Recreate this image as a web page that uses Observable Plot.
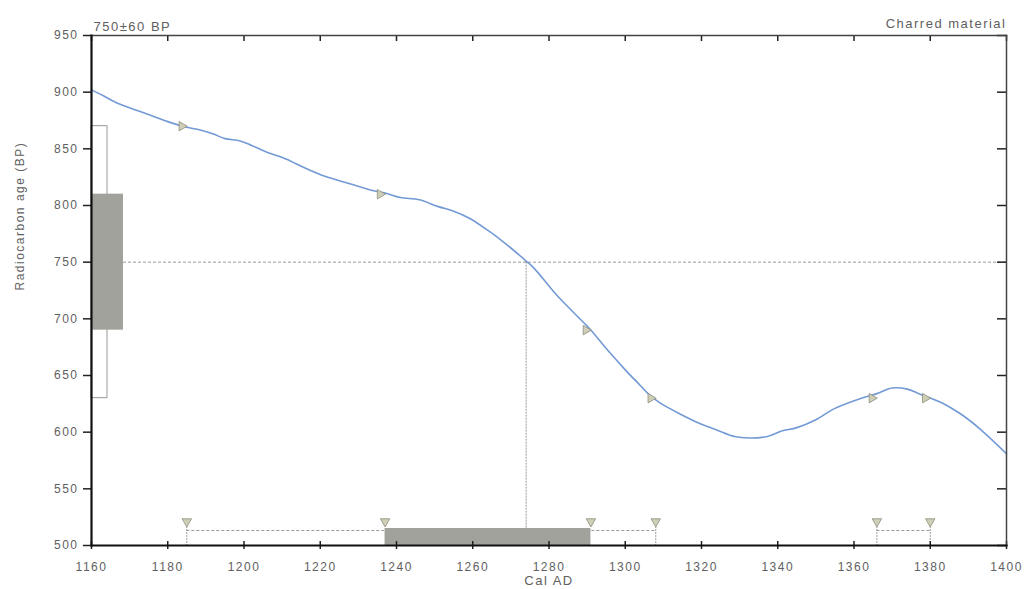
<!DOCTYPE html>
<html>
<head>
<meta charset="utf-8">
<script src="https://cdn.jsdelivr.net/npm/d3@7"></script>
<script src="https://cdn.jsdelivr.net/npm/@observablehq/plot@0.6"></script>
<style>
  html, body { margin: 0; padding: 0; background: #fff; }
  #chart svg { display: block; }
</style>
</head>
<body>
<div id="chart"></div>
<script>
// ---- Data ----
const curveYears = [1160, 1163, 1167, 1171, 1176, 1180, 1185, 1188, 1192, 1195, 1199, 1202, 1206, 1211, 1216, 1221, 1228, 1234, 1237, 1241, 1246, 1251, 1255, 1259, 1264, 1268, 1274, 1276, 1282, 1289, 1291, 1296, 1300, 1304, 1306, 1309, 1315, 1320, 1324, 1329, 1337, 1341, 1345, 1350, 1355, 1362, 1366, 1370, 1374, 1377, 1383, 1388, 1393, 1400];
const curveAges  = [902, 897, 890, 885, 879, 874, 869, 867, 863, 859, 857, 853, 847, 841, 833, 826, 819, 813, 811, 807, 805, 799, 795, 789, 778, 768, 751, 745, 721, 697, 690, 670, 655, 641, 634, 626, 615, 607, 602, 596, 596, 601, 604, 611, 621, 630, 634, 639, 638, 634, 626, 616, 603, 581];

const measuredAge = 750;
const measuredError = 60;
const interceptYear = 1274;
const oneSigmaAges = [[690, 810]];
const twoSigmaAges = [[630, 870]];
const oneSigmaCal = [[1237, 1291]];
const twoSigmaCal = [[1185, 1308], [1366, 1380]];
const twoSigmaEnds = [1185, 1308, 1366, 1380];
const crossingYears = [1185, 1237, 1291, 1308, 1366, 1380];
const crossingAges = [870, 810, 690, 630, 630, 630];

const xTicks = [1160, 1180, 1200, 1220, 1240, 1260, 1280, 1300, 1320, 1340, 1360, 1380, 1400];
const yTicks = [500, 550, 600, 650, 700, 750, 800, 850, 900, 950];

const titleLeft = "750±60 BP";
const titleRight = "Charred material";
const xLabel = "Cal AD";
const yLabel = "Radiocarbon age (BP)";

// ---- Layout ----
const W = 1025, H = 589;
const mL = 91, mR = 19, mT = 35, mB = 44;
const fw = W - mL - mR, fh = H - mT - mB;

const curve = curveYears.map((x, i) => ({x, y: curveAges[i]}));
const crossings = crossingYears.map((x, i) => ({x, y: crossingAges[i]}));

const gray = "#a2a29c";
const dash = "#9a9a9a";
const triFill = "#cfcfb8";
const triStroke = "#8d8d7c";
const textGray = "#606060";

const chart = Plot.plot({
  width: W, height: H,
  marginLeft: mL, marginRight: mR, marginTop: mT, marginBottom: mB,
  x: {domain: [1160, 1400]},
  y: {domain: [500, 950]},
  style: {fontFamily: "'Liberation Sans', Arial, sans-serif", fontSize: "12px", letterSpacing: "1.5px", background: "#fff"},
  marks: [
    // left 2-sigma bracket
    Plot.rect(twoSigmaAges, {y1: d => d[0], y2: d => d[1], insetRight: fw - 16, fill: "none", stroke: "#999", strokeWidth: 1}),
    // left 1-sigma box
    Plot.rect(oneSigmaAges, {y1: d => d[0], y2: d => d[1], insetRight: fw - 32, fill: gray}),
    // measured age line
    Plot.ruleY([measuredAge], {y: d => d, insetLeft: 32, stroke: dash, strokeWidth: 1, strokeDasharray: "3,2"}),
    // intercept vertical
    Plot.ruleX([interceptYear], {x: d => d, y1: () => measuredAge, y2: () => 500, insetBottom: 16, stroke: dash, strokeWidth: 1, strokeDasharray: "2,1"}),
    // 2-sigma calendar ranges
    Plot.ruleY(twoSigmaCal, {x1: d => d[0], x2: d => d[1], y: () => 500, dy: -15, stroke: dash, strokeWidth: 1, strokeDasharray: "3,2"}),
    Plot.tickX(twoSigmaEnds, {x: d => d, insetTop: fh - 22, stroke: dash, strokeWidth: 1, strokeDasharray: "2,1"}),
    // 1-sigma calendar range
    Plot.rect(oneSigmaCal, {x1: d => d[0], x2: d => d[1], insetTop: fh - 17, fill: gray}),
    // bottom markers
    Plot.dot(crossingYears, {x: d => d, y: () => 500, dy: -24, symbol: "triangle", rotate: 180, r: 3.5, fill: triFill, stroke: triStroke, strokeWidth: 0.8}),
    // calibration curve
    Plot.line(curve, {x: "x", y: "y", stroke: "#739ad6", strokeWidth: 1.6, curve: "catmull-rom"}),
    // curve crossing markers
    Plot.dot(crossings, {x: "x", y: "y", dx: -5, symbol: "triangle", rotate: 90, r: 3.5, fill: triFill, stroke: triStroke, strokeWidth: 0.8}),
    // axes
    Plot.axisY(yTicks, {anchor: "left", tickSize: 8, tickPadding: 5, tickFormat: d => String(d), label: null, fill: textGray, stroke: "#222", strokeWidth: 1.5}),
    Plot.tickY(yTicks, {y: d => d, insetLeft: fw - 9, stroke: "#222", strokeWidth: 1.5}),
    Plot.axisX(xTicks, {anchor: "bottom", tickSize: 4, tickPadding: 13, tickFormat: d => String(d), label: null, fill: textGray, stroke: "#222", strokeWidth: 1.5}),
    Plot.tickX(xTicks, {x: d => d, insetTop: fh - 4, stroke: "#222", strokeWidth: 1.5}),
    Plot.tickX(xTicks, {x: d => d, insetBottom: fh - 6, stroke: "#222", strokeWidth: 1.5}),
    // frame
    Plot.frame({anchor: "top", stroke: "#444", strokeWidth: 1.5}),
    Plot.frame({anchor: "right", stroke: "#444", strokeWidth: 1.5}),
    Plot.frame({anchor: "left", stroke: "#111", strokeWidth: 2.2}),
    Plot.frame({anchor: "bottom", stroke: "#111", strokeWidth: 2.2}),
    // texts
    Plot.text([titleLeft], {text: d => d, frameAnchor: "top-left", dx: 2, dy: -14, textAnchor: "start", fill: textGray, fontSize: 13}),
    Plot.text([titleRight], {text: d => d, frameAnchor: "top-right", dx: 0, dy: -17, textAnchor: "end", fill: textGray, fontSize: 13}),
    Plot.text([xLabel], {text: d => d, frameAnchor: "bottom", dy: 39, fill: textGray, fontSize: 13}),
    Plot.text([yLabel], {text: d => d, frameAnchor: "left", dx: -71, rotate: -90, fill: textGray, fontSize: 12, letterSpacing: 0})
  ]
});
document.getElementById("chart").appendChild(chart);
</script>
</body>
</html>
